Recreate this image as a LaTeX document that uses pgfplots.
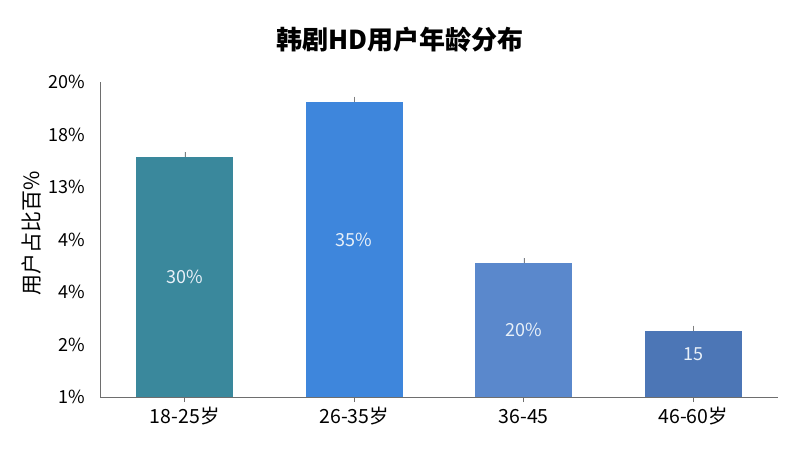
\documentclass[border=0pt]{standalone}
\usepackage{pgfplots}
\pgfplotsset{compat=1.18}
\usepackage{fontspec}
\setmainfont{Noto Sans CJK SC}
\definecolor{c1}{RGB}{58,136,156}
\definecolor{c2}{RGB}{62,134,220}
\definecolor{c3}{RGB}{90,136,204}
\definecolor{c4}{RGB}{76,118,182}
\definecolor{axgray}{RGB}{110,110,110}
\definecolor{lbl}{RGB}{232,240,248}
\begin{document}
\begin{tikzpicture}
\path (0pt,0pt) rectangle (800pt,450pt);
\node[font=\fontsize{26}{30}\selectfont\bfseries] at (400pt,410pt) {韩剧HD用户年龄分布};
\node[rotate=90, font=\fontsize{21}{23}\selectfont] at (32pt,217pt) {用户占比百\%};
\begin{axis}[at={(100pt,53pt)}, anchor=south west, scale only axis,
  width=678pt, height=315pt,
  xmin=0, xmax=4, ymin=0, ymax=6,
  axis x line=bottom, axis y line=left,
  axis line style={-, draw=axgray, line width=0.9pt},
  ytick={0,1,2,3,4,5,6},
  yticklabels={1\%,2\%,4\%,4\%,13\%,18\%,20\%},
  xtick={0.5,1.5,2.5,3.5},
  xticklabels={18-25岁,26-35岁,36-45,46-60岁},
  ytick style={draw=none},
  xtick style={draw=axgray, line width=0.9pt},
  tick align=outside, major tick length=5pt,
  ticklabel style={font=\fontsize{18}{20}\selectfont},
  xticklabel style={font=\fontsize{19.5}{22}\selectfont, text height=15pt, text depth=3pt, yshift=-3pt},
  yticklabel style={xshift=-6pt},
  /pgf/number format/assume math mode=true,
  clip=false]
\addplot[ybar, bar width=97pt, bar shift=0pt, fill=c1, draw=none,
  error bars/.cd, y dir=plus, y explicit, error mark=none, error bar style={draw=gray, line width=0.5pt}]
  coordinates {(0.5,4.57) +- (0,0.1)};
\addplot[ybar, bar width=97pt, bar shift=0pt, fill=c2, draw=none,
  error bars/.cd, y dir=plus, y explicit, error mark=none, error bar style={draw=gray, line width=0.5pt}]
  coordinates {(1.5,5.62) +- (0,0.1)};
\addplot[ybar, bar width=97pt, bar shift=0pt, fill=c3, draw=none,
  error bars/.cd, y dir=plus, y explicit, error mark=none, error bar style={draw=gray, line width=0.5pt}]
  coordinates {(2.5,2.55) +- (0,0.1)};
\addplot[ybar, bar width=97pt, bar shift=0pt, fill=c4, draw=none,
  error bars/.cd, y dir=plus, y explicit, error mark=none, error bar style={draw=gray, line width=0.5pt}]
  coordinates {(3.5,1.26) +- (0,0.1)};
\node[text=lbl, font=\fontsize{18}{20}\selectfont] at (axis cs:0.5,2.29) {30\%};
\node[text=lbl, font=\fontsize{18}{20}\selectfont] at (axis cs:1.5,3.00) {35\%};
\node[text=lbl, font=\fontsize{18}{20}\selectfont] at (axis cs:2.5,1.28) {20\%};
\node[text=lbl, font=\fontsize{18}{20}\selectfont] at (axis cs:3.5,0.82) {15};
\end{axis}
\end{tikzpicture}
\end{document}
